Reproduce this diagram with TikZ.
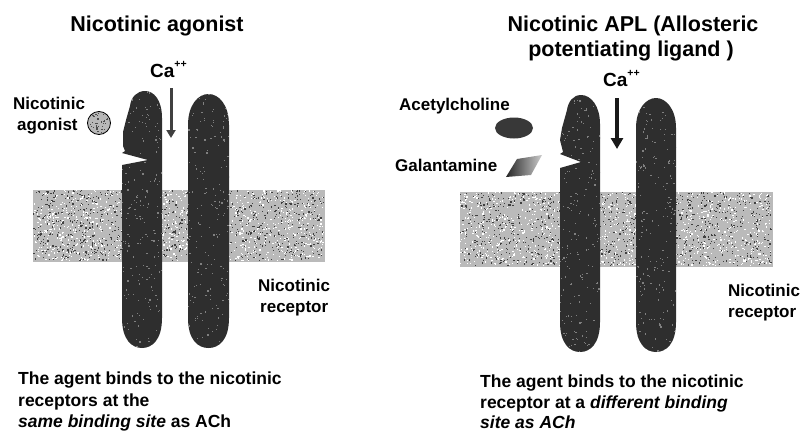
\documentclass[tikz,border=0pt]{standalone}
\usepackage{fontspec}
\setmainfont{Liberation Sans}
\usetikzlibrary{arrows.meta,shapes.geometric}

% random grain inside a rectangle: x0, y0, width, height, count, colour
\newcommand\grain[6]{%
  \foreach \k in {1,...,#5}{%
    \pgfmathsetmacro\gx{#1+rnd*#3}%
    \pgfmathsetmacro\gy{#2+rnd*#4}%
    \fill[#6] (\gx,\gy) rectangle ++(1.2,1.2);
  }}

% receptor subunit outlines
\newcommand\subAL{(162,318) -- (162,118) .. controls (162,100) and (154,91) .. (145,91)
  .. controls (137,91) and (131,97) .. (130,106) -- (126,120) -- (123,132) -- (123,146)
  -- (125,151) -- (122,153) -- (148,160) -- (122,165) -- (122,318)
  .. controls (122,340) and (132,348) .. (142,348) .. controls (152,348) and (162,340) .. (162,318) -- cycle}
\newcommand\subAR{(188,318) -- (188,125) .. controls (188,105) and (198,94) .. (208.5,94)
  .. controls (219,94) and (229,105) .. (229,125) -- (229,318)
  .. controls (229,340) and (219,348) .. (208.5,348) .. controls (198,348) and (188,340) .. (188,318) -- cycle}
\newcommand\subBL{(600,322) -- (600,124) .. controls (600,106) and (591,95) .. (581,95)
  .. controls (573,95) and (568,102) .. (567,110) -- (562,128) -- (560,140) -- (563,152)
  -- (560,154) -- (581,162) -- (560,168) -- (560,322)
  .. controls (560,344) and (570,352) .. (580,352) .. controls (590,352) and (600,344) .. (600,322) -- cycle}
\newcommand\subBR{(636,322) -- (636,128) .. controls (636,109) and (646,98) .. (656,98)
  .. controls (666,98) and (676,109) .. (676,128) -- (676,322)
  .. controls (676,344) and (666,352) .. (656,352) .. controls (646,352) and (636,344) .. (636,322) -- cycle}

\tikzset{
  membrane/.style={fill=black!27},
  subunit/.style={fill=black!82},
  lbl/.style={font=\fontsize{17}{20}\selectfont\bfseries, inner sep=0pt},
  ionlbl/.style={font=\fontsize{19}{22}\selectfont\bfseries, inner sep=0pt, anchor=base west},
  caption/.style={font=\fontsize{17.5}{21}\selectfont\bfseries, inner sep=0pt, anchor=base west},
  heading/.style={font=\fontsize{21.5}{25}\selectfont\bfseries, inner sep=0pt, anchor=base},
  flux/.style={line width=3pt, black!75, -{Triangle[width=9pt,length=8pt]}},
  fluxbold/.style={line width=4pt, black!90, -{Triangle[width=12pt,length=11pt]}},
}

\newcommand\ion{Ca\raisebox{0.5em}{\fontsize{10.5}{10.5}\selectfont ++}}

\begin{document}
\begin{tikzpicture}[x=1pt,y=-1pt]
\pgfmathsetseed{4242}
\useasboundingbox (0,0) rectangle (802,431);

% ---------- membranes ----------
\fill[membrane] (33,190) rectangle (325,262);
\grain{33}{190}{290}{70}{1000}{black!75}
\grain{33}{190}{290}{70}{1100}{white}
\fill[membrane] (460,192) rectangle (773,267);
\grain{460}{192}{311}{73}{1050}{black!75}
\grain{460}{192}{311}{73}{1150}{white}

% ---------- receptor subunits ----------
\foreach \shp in {\subAL,\subAR,\subBL,\subBR}{
  \fill[subunit] \shp;
}
\begin{scope}\clip \subAL; \grain{120}{88}{44}{262}{200}{black!50} \end{scope}
\begin{scope}\clip \subAR; \grain{186}{92}{45}{258}{200}{black!50} \end{scope}
\begin{scope}\clip \subBL; \grain{558}{93}{44}{262}{200}{black!50} \end{scope}
\begin{scope}\clip \subBR; \grain{634}{96}{44}{258}{200}{black!50} \end{scope}

% ---------- left panel: agonist at the ACh site ----------
\node[heading] (titleA) at (157,31) {Nicotinic agonist};
\node[ionlbl] (caA) at (150,77) {\ion};
\coordinate (fluxAtop) at (171,88);
\coordinate (fluxAbot) at (171,138);
\draw[flux] (fluxAtop) -- (fluxAbot);

\node[lbl, anchor=base west] (agA1) at (13,109) {Nicotinic};
\node[lbl, anchor=base west] (agA2) at (17,130) {agonist};
\node[circle, minimum size=23pt, inner sep=0pt, draw=black, line width=0.8pt,
      fill=black!28] (ligA) at (99,123) {};
\begin{scope}\clip (99,123) circle (10.5); \grain{88}{112}{22}{22}{45}{black!70} \end{scope}

\node[lbl, anchor=base west] (recA1) at (258,291) {Nicotinic};
\node[lbl, anchor=base west] (recA2) at (260,312) {receptor};

\node[caption] (capA1) at (18,384) {The agent binds to the nicotinic};
\node[caption] (capA2) at (18,406) {receptors at the};
\node[caption] (capA3) at (18,427) {\itshape same binding site\upshape{} as ACh};

% ---------- right panel: allosteric potentiating ligand ----------
\node[heading] (titleB1) at (633,31) {Nicotinic APL (Allosteric};
\node[heading] (titleB2) at (631,56) {potentiating ligand )};
\node[ionlbl] (caB) at (603,86) {\ion};
\coordinate (fluxBtop) at (617,98);
\coordinate (fluxBbot) at (617,149);
\draw[fluxbold] (fluxBtop) -- (fluxBbot);

\node[lbl, anchor=base west] (ach) at (399,110) {Acetylcholine};
\node[ellipse, minimum width=38pt, minimum height=21pt, inner sep=0pt, fill=black!78] (achmol) at (514,128) {};
\node[lbl, anchor=base west] (gal) at (395,171) {Galantamine};
\shade[left color=black!85, right color=black!20]
  (506,177) -- (517,159) -- (542,155) -- (531,175) -- cycle;
\coordinate (galmol) at (524,166);

\node[lbl, anchor=base west] (recB1) at (728,296) {Nicotinic};
\node[lbl, anchor=base west] (recB2) at (728,317) {receptor};

\node[caption] (capB1) at (480,387) {The agent binds to the nicotinic};
\node[caption] (capB2) at (480,408) {receptor at a \itshape different binding};
\node[caption] (capB3) at (480,428) {\itshape site as ACh};
\end{tikzpicture}
\end{document}
